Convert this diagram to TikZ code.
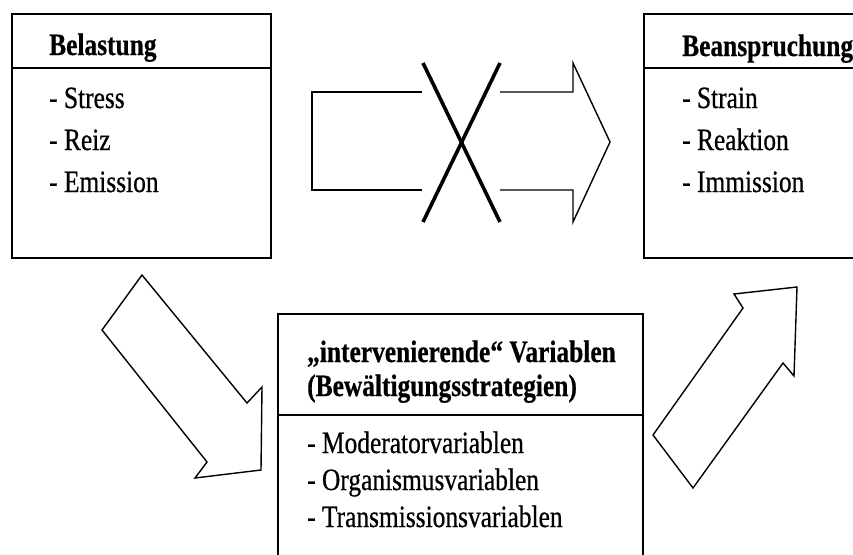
\documentclass[tikz,border=0pt]{standalone}
\usepackage{fontspec}
\setmainfont{Liberation Serif}[FakeStretch=0.82,
  UprightFeatures={FakeBold=0.6}, BoldFeatures={FakeBold=0.6}]
\begin{document}
\begin{tikzpicture}[x=1pt,y=-1pt,
  frame/.style={draw, line width=1.6pt, rectangle, inner sep=0pt, anchor=north west},
  rule/.style={line width=1.6pt},
  blockarrow/.style={draw, line width=1.4pt, line join=miter, fill=white},
  crossbar/.style={line width=3.6pt},
  txt/.style={anchor=base west, inner sep=0pt, font=\fontsize{31}{33}\selectfont},
  head/.style={txt, font=\fontsize{31}{33}\selectfont\bfseries}]
\useasboundingbox (0,0) rectangle (853,554);
\clip (0,0) rectangle (853,554);

% Belastung box
\node[frame, minimum width=259pt, minimum height=244pt] (load) at (11,13) {};
\draw[rule] (11,68) coordinate (loadL) -- (270,68) coordinate (loadR);
\node[head] (loadh) at (49,55) {Belastung};
\node[txt] (l1) at (49,108) {- Stress};
\node[txt] (l2) at (49,150) {- Reiz};
\node[txt] (l3) at (49,192) {- Emission};

% Beanspruchung box (runs past the right edge)
\node[frame, minimum width=230pt, minimum height=244pt] (strain) at (643,13) {};
\draw[rule] (643,68) coordinate (strainL) -- (873,68) coordinate (strainR);
\node[head] (strainh) at (682,56) {Beanspruchung};
\node[txt] (s1) at (682,108) {- Strain};
\node[txt] (s2) at (682,150) {- Reaktion};
\node[txt] (s3) at (682,192) {- Immission};

% intervening variables box (runs past the bottom edge)
\node[frame, minimum width=365pt, minimum height=260pt] (inter) at (277,313) {};
\draw[rule] (277,415) coordinate (interL) -- (642,415) coordinate (interR);
\node[head] (ih1) at (307,362) {„intervenierende“ Variablen};
\node[head] (ih2) at (307,396) {(Bewältigungsstrategien)};
\node[txt] (i1) at (307,453) {- Moderatorvariablen};
\node[txt] (i2) at (307,490) {- Organismusvariablen};
\node[txt] (i3) at (307,527) {- Transmissionsvariablen};

% direct path, crossed out
\coordinate (gapL1) at (422,92);
\coordinate (gapL2) at (422,190);
\coordinate (gapR1) at (500,92);
\coordinate (gapR2) at (500,190);
\draw[line width=1.4pt, line join=miter] (gapL1) -- (312,92) -- (312,190) -- (gapL2);
\draw[line width=1.4pt, line join=miter] (gapR1) -- (573,92) -- (573,63) -- (610,142)
  -- (573,222) -- (573,190) -- (gapR2);
\draw[crossbar] (423,63) -- (500,222);
\draw[crossbar] (500,63) -- (423,222);

% path via the intervening variables
\draw[blockarrow] (142,275) -- (102,330) -- (207,462) -- (195,478) -- (261,470)
  -- (262,387) -- (247,403) -- cycle;
\draw[blockarrow] (693,488) -- (653,435) -- (743,308) -- (734,294) -- (797,287)
  -- (794,376) -- (783,363) -- cycle;
\end{tikzpicture}
\end{document}
